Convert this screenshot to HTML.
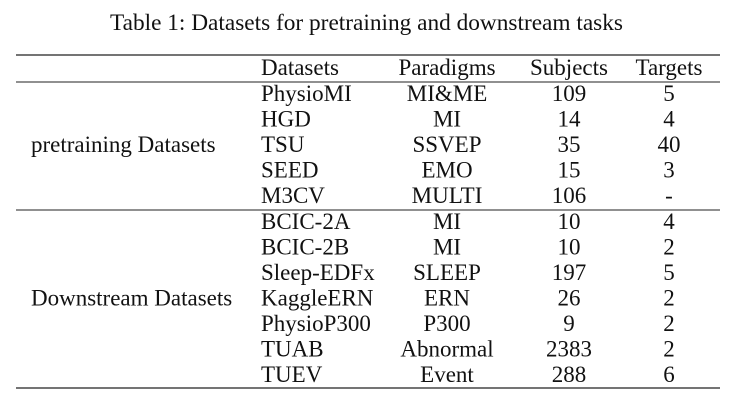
<!DOCTYPE html>
<html><head><style>
html,body{margin:0;padding:0;background:#fff;}
svg{display:block;}
text{font-family:"Liberation Serif",serif;font-size:23px;fill:#111;}
</style></head><body>
<svg width="737" height="404" viewBox="0 0 737 404">
<text x="110" y="30" textLength="513" lengthAdjust="spacingAndGlyphs">Table 1: Datasets for pretraining and downstream tasks</text>
<line x1="16" y1="55" x2="720" y2="55" stroke="#222" stroke-width="1.3"/>
<line x1="16" y1="82" x2="720" y2="82" stroke="#222" stroke-width="1"/>
<line x1="16" y1="210" x2="720" y2="210" stroke="#222" stroke-width="1"/>
<line x1="16" y1="388" x2="720" y2="388" stroke="#222" stroke-width="1.3"/>
<g>
<text x="261" y="75">Datasets</text>
<text x="447" y="75" text-anchor="middle">Paradigms</text>
<text x="569" y="75" text-anchor="middle">Subjects</text>
<text x="669" y="75" text-anchor="middle">Targets</text>
</g>
<text x="31" y="152">pretraining Datasets</text>
<text x="31" y="305.5">Downstream Datasets</text>
<g id="rows">
<text x="261" y="101">PhysioMI</text><text x="447" y="101" text-anchor="middle">MI&amp;ME</text><text x="569" y="101" text-anchor="middle">109</text><text x="669" y="101" text-anchor="middle">5</text>
<text x="261" y="126.5">HGD</text><text x="447" y="126.5" text-anchor="middle">MI</text><text x="569" y="126.5" text-anchor="middle">14</text><text x="669" y="126.5" text-anchor="middle">4</text>
<text x="261" y="152">TSU</text><text x="447" y="152" text-anchor="middle">SSVEP</text><text x="569" y="152" text-anchor="middle">35</text><text x="669" y="152" text-anchor="middle">40</text>
<text x="261" y="177.5">SEED</text><text x="447" y="177.5" text-anchor="middle">EMO</text><text x="569" y="177.5" text-anchor="middle">15</text><text x="669" y="177.5" text-anchor="middle">3</text>
<text x="261" y="203">M3CV</text><text x="447" y="203" text-anchor="middle">MULTI</text><text x="569" y="203" text-anchor="middle">106</text><text x="669" y="203" text-anchor="middle">-</text>
<text x="261" y="229">BCIC-2A</text><text x="447" y="229" text-anchor="middle">MI</text><text x="569" y="229" text-anchor="middle">10</text><text x="669" y="229" text-anchor="middle">4</text>
<text x="261" y="254.5">BCIC-2B</text><text x="447" y="254.5" text-anchor="middle">MI</text><text x="569" y="254.5" text-anchor="middle">10</text><text x="669" y="254.5" text-anchor="middle">2</text>
<text x="261" y="280">Sleep-EDFx</text><text x="447" y="280" text-anchor="middle">SLEEP</text><text x="569" y="280" text-anchor="middle">197</text><text x="669" y="280" text-anchor="middle">5</text>
<text x="261" y="305.5">KaggleERN</text><text x="447" y="305.5" text-anchor="middle">ERN</text><text x="569" y="305.5" text-anchor="middle">26</text><text x="669" y="305.5" text-anchor="middle">2</text>
<text x="261" y="331">PhysioP300</text><text x="447" y="331" text-anchor="middle">P300</text><text x="569" y="331" text-anchor="middle">9</text><text x="669" y="331" text-anchor="middle">2</text>
<text x="261" y="356.5">TUAB</text><text x="447" y="356.5" text-anchor="middle">Abnormal</text><text x="569" y="356.5" text-anchor="middle">2383</text><text x="669" y="356.5" text-anchor="middle">2</text>
<text x="261" y="382">TUEV</text><text x="447" y="382" text-anchor="middle">Event</text><text x="569" y="382" text-anchor="middle">288</text><text x="669" y="382" text-anchor="middle">6</text>
</g>
</svg>
</body></html>
